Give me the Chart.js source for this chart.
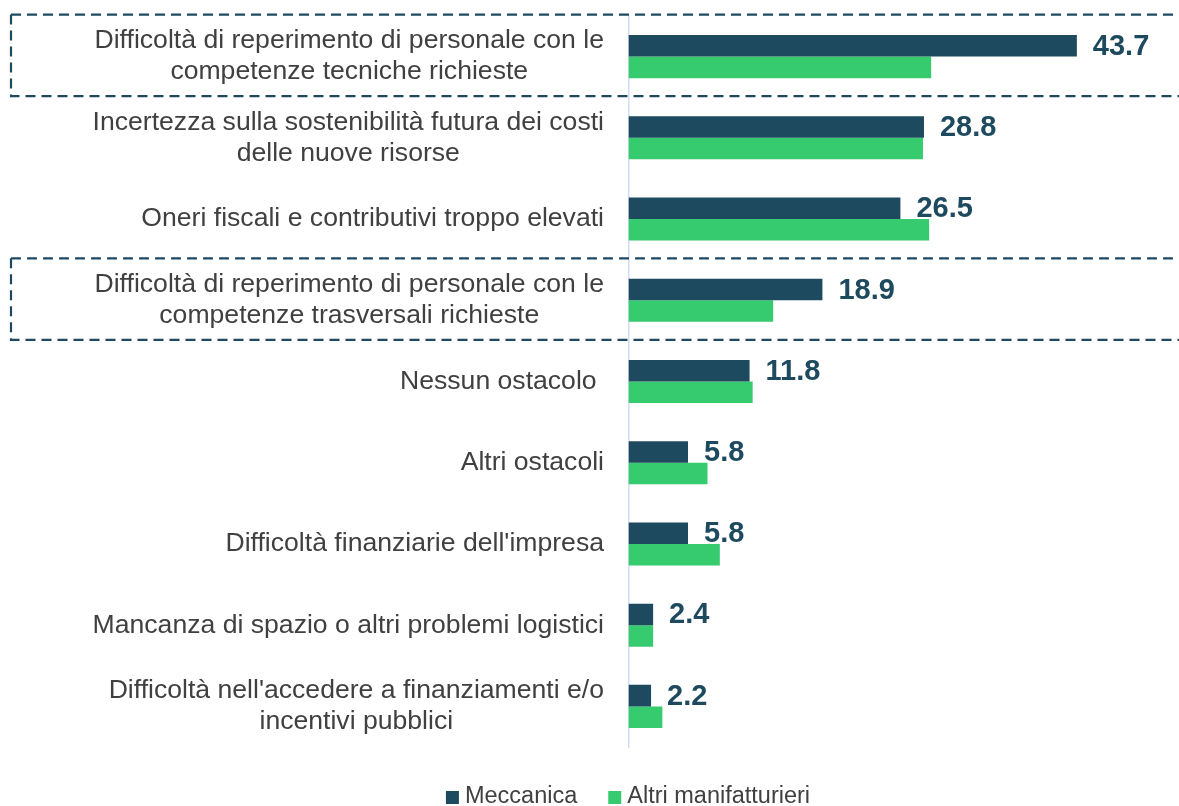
<!DOCTYPE html>
<html lang="it">
<head>
<meta charset="utf-8">
<title>Ostacoli all'inserimento di nuove risorse</title>
<script src="https://cdn.jsdelivr.net/npm/chart.js@4.4.1/dist/chart.umd.min.js"></script>
<style>
  html, body { margin: 0; padding: 0; background: #fff; overflow: hidden; }
  #wrap { position: relative; width: 1179px; height: 806px; }
</style>
</head>
<body>
<div id="wrap"><canvas id="myChart"></canvas></div>
<script>
const categories = [
  ['Difficoltà di reperimento di personale con le', 'competenze tecniche richieste'],
  ['Incertezza sulla sostenibilità futura dei costi', 'delle nuove risorse'],
  'Oneri fiscali e contributivi troppo elevati',
  ['Difficoltà di reperimento di personale con le', 'competenze trasversali richieste'],
  'Nessun ostacolo ',
  'Altri ostacoli',
  "Difficoltà finanziarie dell'impresa",
  'Mancanza di spazio o altri problemi logistici',
  ["Difficoltà nell'accedere a finanziamenti e/o", 'incentivi pubblici']
];
const meccanica = [43.7, 28.8, 26.5, 18.9, 11.8, 5.8, 5.8, 2.4, 2.2];
const altriManifatturieri = [29.5, 28.7, 29.3, 14.1, 12.1, 7.7, 8.9, 2.4, 3.3];
const seriesNames = ['Meccanica', 'Altri manifatturieri'];
// rows framed by a dashed box
const highlighted = [0, 3];

const DARK = '#1e4a5f';
const GREEN = '#36cb6e';
const TEXT = '#404040';
const FONT = 'Arial, "Liberation Sans", sans-serif';

// category labels: single lines right aligned, wrapped ones centred as a block
const categoryLabels = {
  id: 'categoryLabels',
  afterDraw(chart) {
    const ctx = chart.ctx;
    const yScale = chart.scales.y;
    const right = chart.chartArea.left - 24.5;
    ctx.save();
    ctx.font = '26.6px ' + FONT;
    ctx.fillStyle = TEXT;
    ctx.textAlign = 'center';
    ctx.textBaseline = 'middle';
    chart.data.labels.forEach((label, i) => {
      const lines = Array.isArray(label) ? label : [label];
      const w = Math.max(...lines.map(l => ctx.measureText(l).width));
      const y = yScale.getPixelForTick(i);
      lines.forEach((line, j) => {
        ctx.fillText(line, right - w / 2, y + (j - (lines.length - 1) / 2) * 31);
      });
    });
    ctx.restore();
  }
};

// values printed after the Meccanica bars
const valueLabels = {
  id: 'valueLabels',
  afterDatasetsDraw(chart) {
    const ctx = chart.ctx;
    const meta = chart.getDatasetMeta(0);
    ctx.save();
    ctx.font = 'bold 29px ' + FONT;
    ctx.fillStyle = DARK;
    ctx.textAlign = 'left';
    ctx.textBaseline = 'middle';
    meta.data.forEach((bar, i) => {
      ctx.fillText(meccanica[i].toFixed(1), bar.x + 16, bar.y + 1);
    });
    ctx.restore();
  }
};

const dashedBoxes = {
  id: 'dashedBoxes',
  afterDraw(chart) {
    const ctx = chart.ctx;
    const yScale = chart.scales.y;
    ctx.save();
    ctx.strokeStyle = DARK;
    ctx.lineWidth = 2.2;
    ctx.setLineDash([10, 6]);
    highlighted.forEach(idx => {
      const c = yScale.getPixelForTick(idx);
      const top = c - 42, bottom = c + 39.5, left = 11;
      ctx.beginPath();
      ctx.moveTo(left, top);
      ctx.lineTo(chart.width, top);
      ctx.moveTo(left, top);
      ctx.lineTo(left, bottom);
      ctx.lineTo(chart.width, bottom);
      ctx.stroke();
    });
    ctx.restore();
  }
};

const bottomLegend = {
  id: 'bottomLegend',
  afterDraw(chart) {
    const ctx = chart.ctx;
    const box = 13, gap = 6, spacing = 31;
    ctx.save();
    ctx.font = '23.5px ' + FONT;
    ctx.textBaseline = 'middle';
    ctx.textAlign = 'left';
    const items = chart.data.datasets.map(ds => ({
      text: ds.label, color: ds.backgroundColor, w: ctx.measureText(ds.label).width
    }));
    const total = items.reduce((s, it) => s + box + gap + it.w, 0) + spacing * (items.length - 1);
    let x = 628 - total / 2;
    const y = 797;
    items.forEach(it => {
      ctx.fillStyle = it.color;
      ctx.fillRect(x, y - 6, box, box);
      ctx.fillStyle = TEXT;
      ctx.fillText(it.text, x + box + gap, y);
      x += box + gap + it.w + spacing;
    });
    ctx.restore();
  }
};

const ctx = document.getElementById('myChart').getContext('2d');
const myChart = new Chart(ctx, {
  type: 'bar',
  data: {
    labels: categories,
    datasets: [
      { label: seriesNames[0], data: meccanica, backgroundColor: DARK,
        categoryPercentage: 0.53, barPercentage: 1 },
      { label: seriesNames[1], data: altriManifatturieri, backgroundColor: GREEN,
        categoryPercentage: 0.53, barPercentage: 1 }
    ]
  },
  options: {
    indexAxis: 'y',
    responsive: true,
    maintainAspectRatio: false,
    animation: false,
    layout: { padding: { top: 16, bottom: 59, left: 0, right: 37.5 } },
    scales: {
      x: { display: false, min: 0, max: 50 },
      y: {
        grid: { display: false, drawTicks: false },
        border: { display: true, color: '#cfdcf3', width: 1.5 },
        ticks: { display: false },
        afterFit(scale) { scale.width = 628.5; }
      }
    },
    plugins: {
      legend: { display: false },
      tooltip: { enabled: false }
    }
  },
  plugins: [categoryLabels, valueLabels, dashedBoxes, bottomLegend]
});
</script>
</body>
</html>
